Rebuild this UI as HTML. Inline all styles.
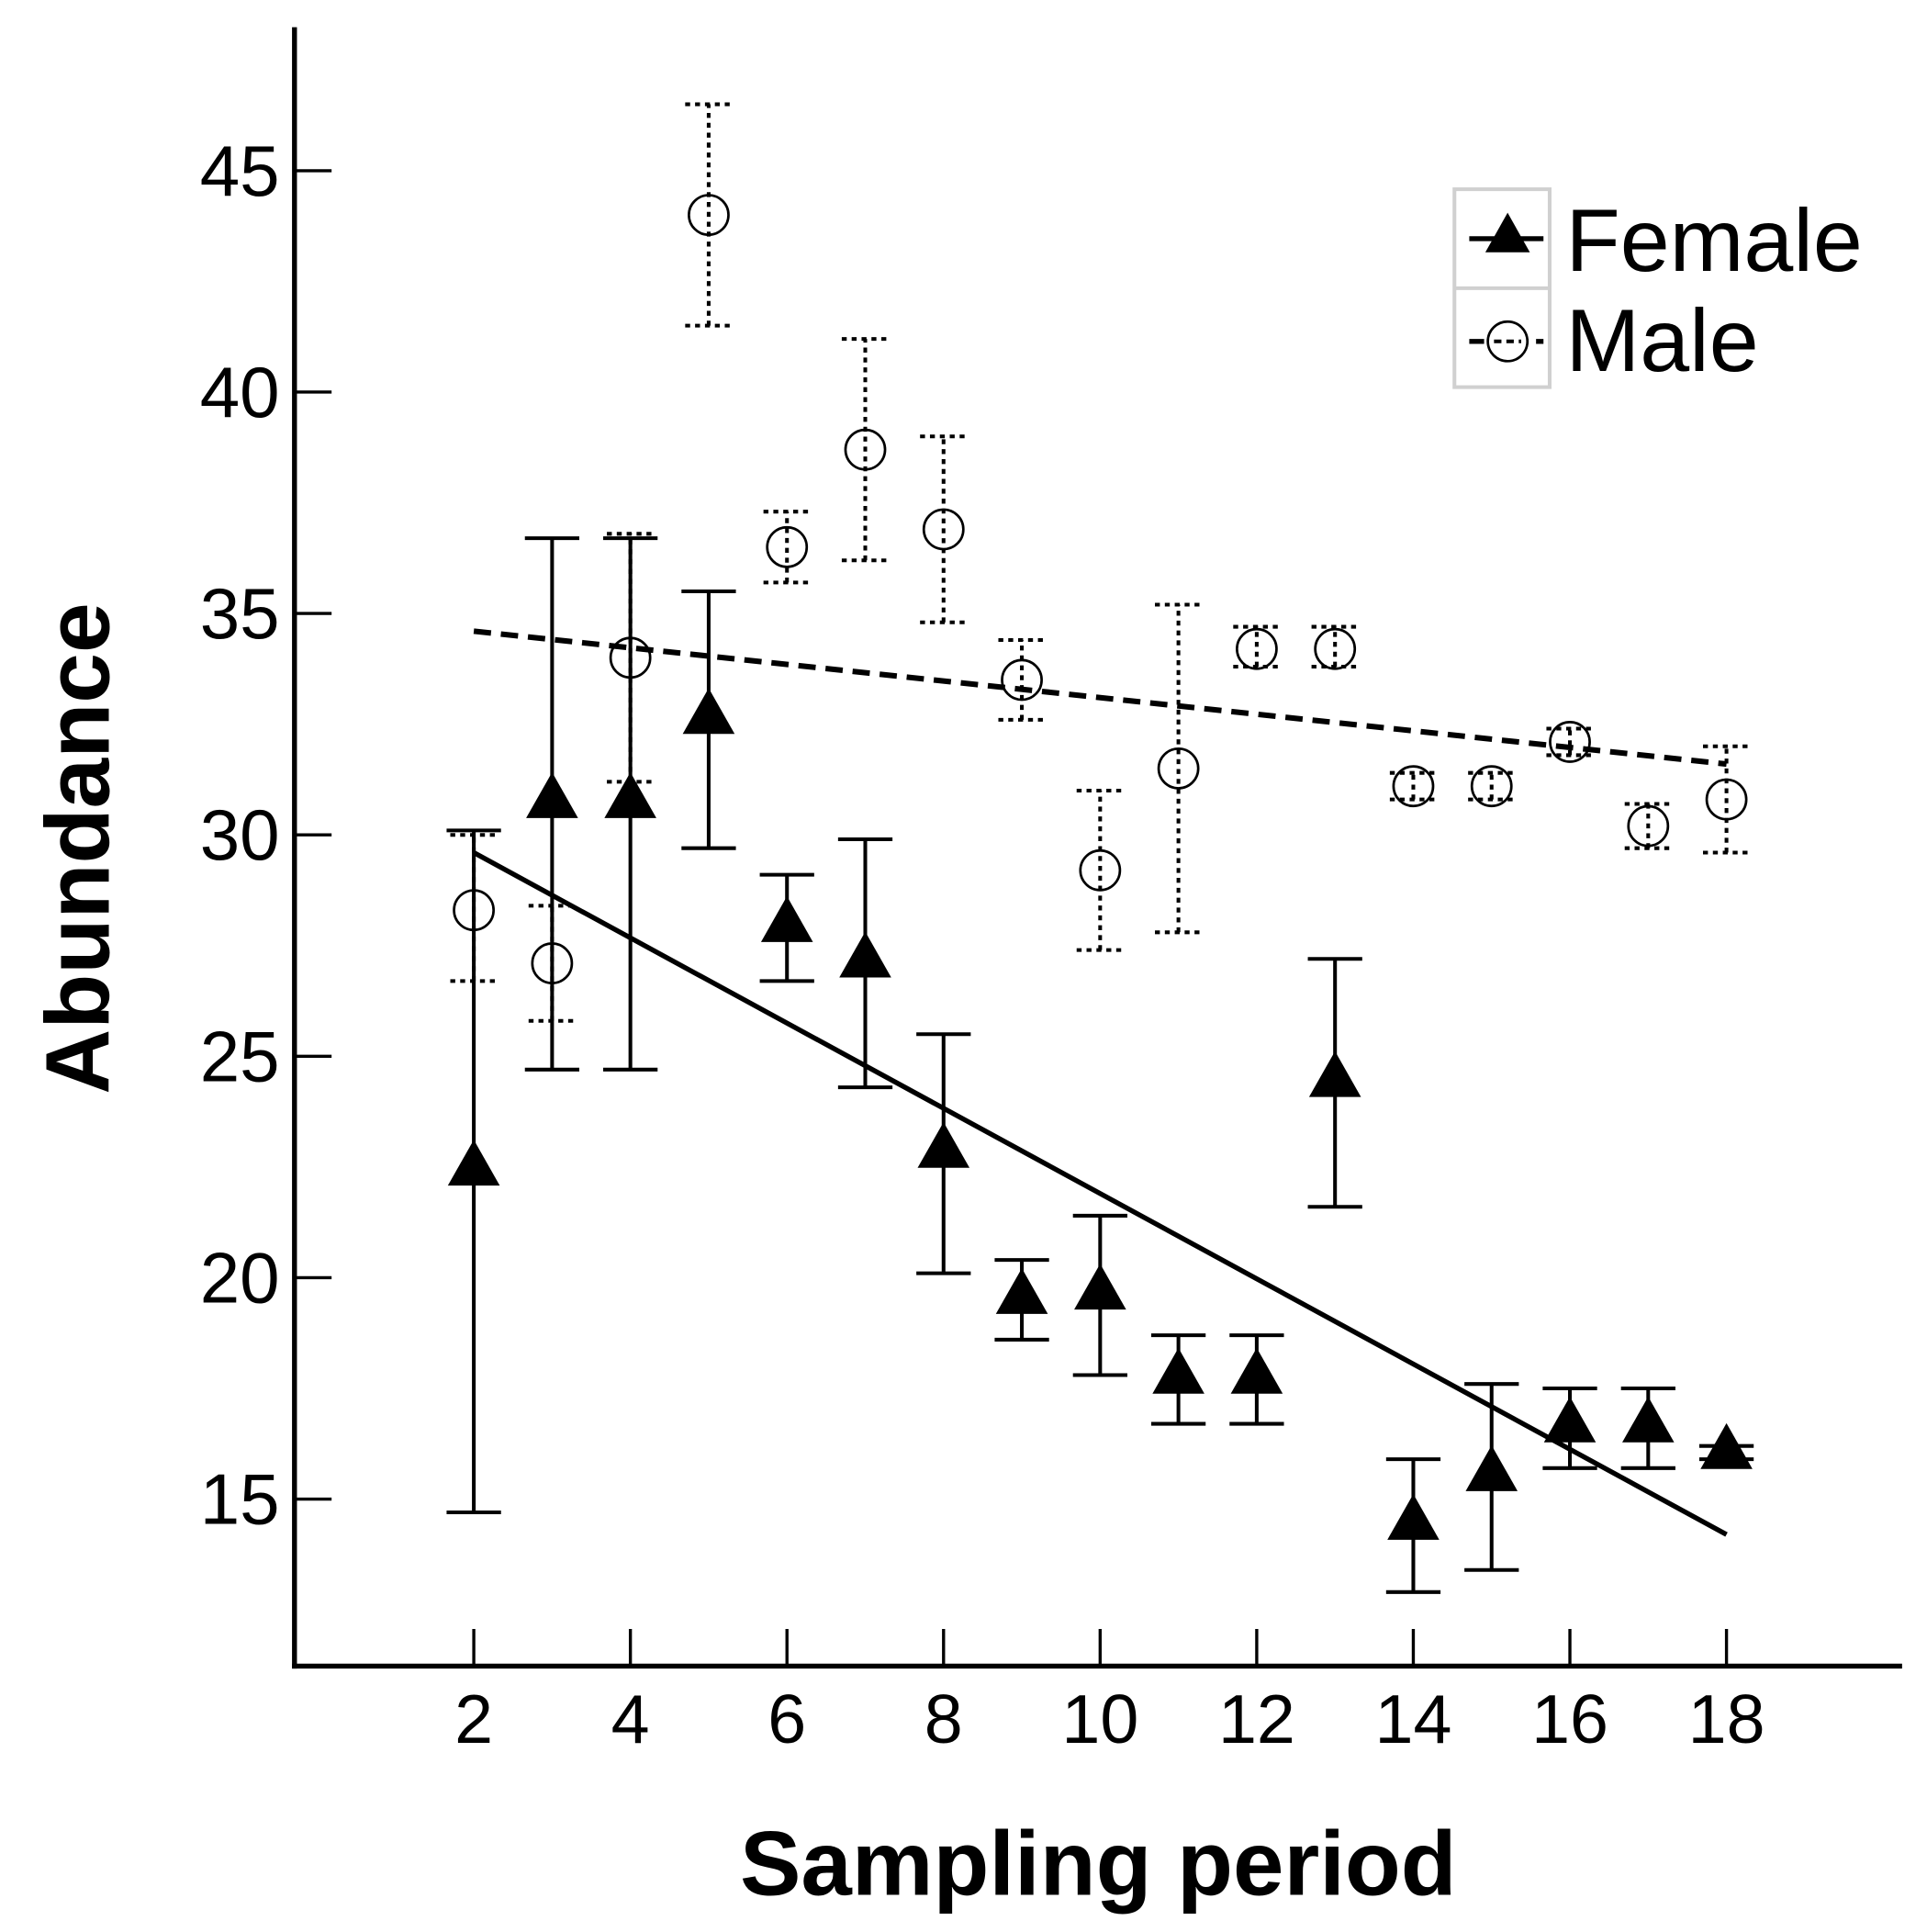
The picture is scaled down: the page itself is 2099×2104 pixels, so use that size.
<!DOCTYPE html>
<html><head><meta charset="utf-8"><style>
html,body{margin:0;padding:0;background:#fff}
svg{display:block}
text{font-family:"Liberation Sans",Arial,sans-serif;fill:#000}
</style></head><body>
<svg id="chart" width="2099" height="2104" viewBox="0 0 1558 1562" xmlns="http://www.w3.org/2000/svg">
<g id="axes"></g>
<g id="marks"></g>
<g>
<rect x="1176" y="153" width="77" height="160" fill="#fff" stroke="#d0d0d0" stroke-width="3"/>
<line x1="1176" y1="233" x2="1253" y2="233" stroke="#d0d0d0" stroke-width="3"/>
<line x1="1188" y1="193" x2="1248" y2="193" stroke="#000" stroke-width="4"/>
<polygon points="1219,172 1201,204 1237,204" fill="#000"/>
<line x1="1188" y1="276" x2="1248" y2="276" stroke="#000" stroke-width="4" stroke-dasharray="12,6"/>
<circle cx="1219" cy="276" r="16" fill="#fff" stroke="#000" stroke-width="2"/>
<line x1="1208" y1="276" x2="1230" y2="276" stroke="#000" stroke-width="3" stroke-dasharray="6,4"/>
<text x="1266" y="219" font-size="72">Female</text>
<text x="1266" y="300" font-size="72">Male</text>
</g>
<text x="888" y="1532" font-size="74" font-weight="bold" text-anchor="middle">Sampling period</text>
<text transform="translate(88,686) rotate(-90)" font-size="73" font-weight="bold" text-anchor="middle">Abundance</text>
</svg>
<script>
const periods = [2,3,4,5,6,7,8,9,10,11,12,13,14,15,16,17,18];
const femaleMean = [22.5,30.8,30.8,32.7,28.0,27.2,22.9,19.6,19.7,17.8,17.8,24.5,14.5,15.6,16.7,16.7,16.1];
const femaleLow  = [14.7,24.7,24.7,29.7,26.7,24.3,20.1,18.6,17.8,16.7,16.7,21.6,12.9,13.4,15.7,15.7,15.9];
const femaleHigh = [30.1,36.7,36.7,35.5,29.1,29.9,25.5,20.4,21.4,18.7,18.7,27.2,15.9,17.6,17.5,17.5,16.2];
const maleMean = [28.3,27.1,34.0,44.0,36.5,38.7,36.9,33.5,29.2,31.5,34.2,34.2,31.1,31.1,32.1,30.2,30.8];
const maleLow  = [26.7,25.8,31.2,41.5,35.7,36.2,34.8,32.6,27.4,27.8,33.8,33.8,30.8,30.8,31.8,29.7,29.6];
const maleHigh = [30.0,28.4,36.8,46.5,37.3,41.2,39.0,34.4,31.0,35.2,34.7,34.7,31.4,31.4,32.4,30.7,32.0];
const femaleFit = [[2,29.6],[18,14.2]];
const maleFit = [[2,34.6],[18,31.6]];
const xTicks = [2,4,6,8,10,12,14,16,18];
const yTicks = [15,20,25,30,35,40,45];

const NS='http://www.w3.org/2000/svg';
const sx = v => 383 + (v-2)*(1396-383)/16;
const sy = v => 1212 - (v-15)*(1212-138)/30;
function mk(tag, attrs, parent){const e=document.createElementNS(NS,tag);for(const k in attrs)e.setAttribute(k,attrs[k]);parent.appendChild(e);return e;}
const axes=document.getElementById('axes'), marks=document.getElementById('marks');

let a=mk('line',{x1:238,y1:22,x2:238,y2:1349,stroke:'#000','stroke-width':4},axes);


a=mk('line',{x1:236,y1:1347,x2:1538,y2:1347,stroke:'#000','stroke-width':4},axes);


xTicks.forEach(t=>{
  const l=mk('line',{x1:sx(t),y1:1317,x2:sx(t),y2:1347,stroke:'#000','stroke-width':2.5},axes);
  
  
  const tx=mk('text',{x:sx(t),y:1409,'font-size':56,'text-anchor':'middle'},axes);tx.textContent=t;
  
  
});
yTicks.forEach(t=>{
  const l=mk('line',{x1:238,y1:sy(t),x2:268,y2:sy(t),stroke:'#000','stroke-width':2.5},axes);
  
  
  const tx=mk('text',{x:226,y:sy(t)+20,'font-size':58,'text-anchor':'end'},axes);tx.textContent=t;
  
  
});
let f=mk('line',{x1:sx(femaleFit[0][0]),y1:sy(femaleFit[0][1]),x2:sx(femaleFit[1][0]),y2:sy(femaleFit[1][1]),stroke:'#000','stroke-width':4},marks);


f=mk('line',{x1:sx(maleFit[0][0]),y1:sy(maleFit[0][1]),x2:sx(maleFit[1][0]),y2:sy(maleFit[1][1]),stroke:'#000','stroke-width':4.5,'stroke-dasharray':'14,8'},marks);


periods.forEach((p,i)=>{
  const x=sx(p), d={stroke:'#000','stroke-width':3,'stroke-dasharray':'4,4'};
  const g=mk('g',{},marks);
  
  
  mk('line',Object.assign({x1:x,y1:sy(maleLow[i]),x2:x,y2:sy(maleHigh[i])},d),g);
  mk('line',Object.assign({x1:x-19,y1:sy(maleLow[i]),x2:x+19,y2:sy(maleLow[i])},d),g);
  mk('line',Object.assign({x1:x-19,y1:sy(maleHigh[i]),x2:x+19,y2:sy(maleHigh[i])},d),g);
  mk('circle',{cx:x,cy:sy(maleMean[i]),r:16,fill:'none',stroke:'#000','stroke-width':2},g);
});
periods.forEach((p,i)=>{
  const x=sx(p), s={stroke:'#000','stroke-width':3};
  const g=mk('g',{},marks);
  
  
  mk('line',Object.assign({x1:x,y1:sy(femaleLow[i]),x2:x,y2:sy(femaleHigh[i])},s),g);
  mk('line',Object.assign({x1:x-22,y1:sy(femaleLow[i]),x2:x+22,y2:sy(femaleLow[i])},s),g);
  mk('line',Object.assign({x1:x-22,y1:sy(femaleHigh[i]),x2:x+22,y2:sy(femaleHigh[i])},s),g);
  const y=sy(femaleMean[i]);
  mk('polygon',{points:`${x},${y-22} ${x-21},${y+15} ${x+21},${y+15}`,fill:'#000'},g);
});
</script>
</body></html>
